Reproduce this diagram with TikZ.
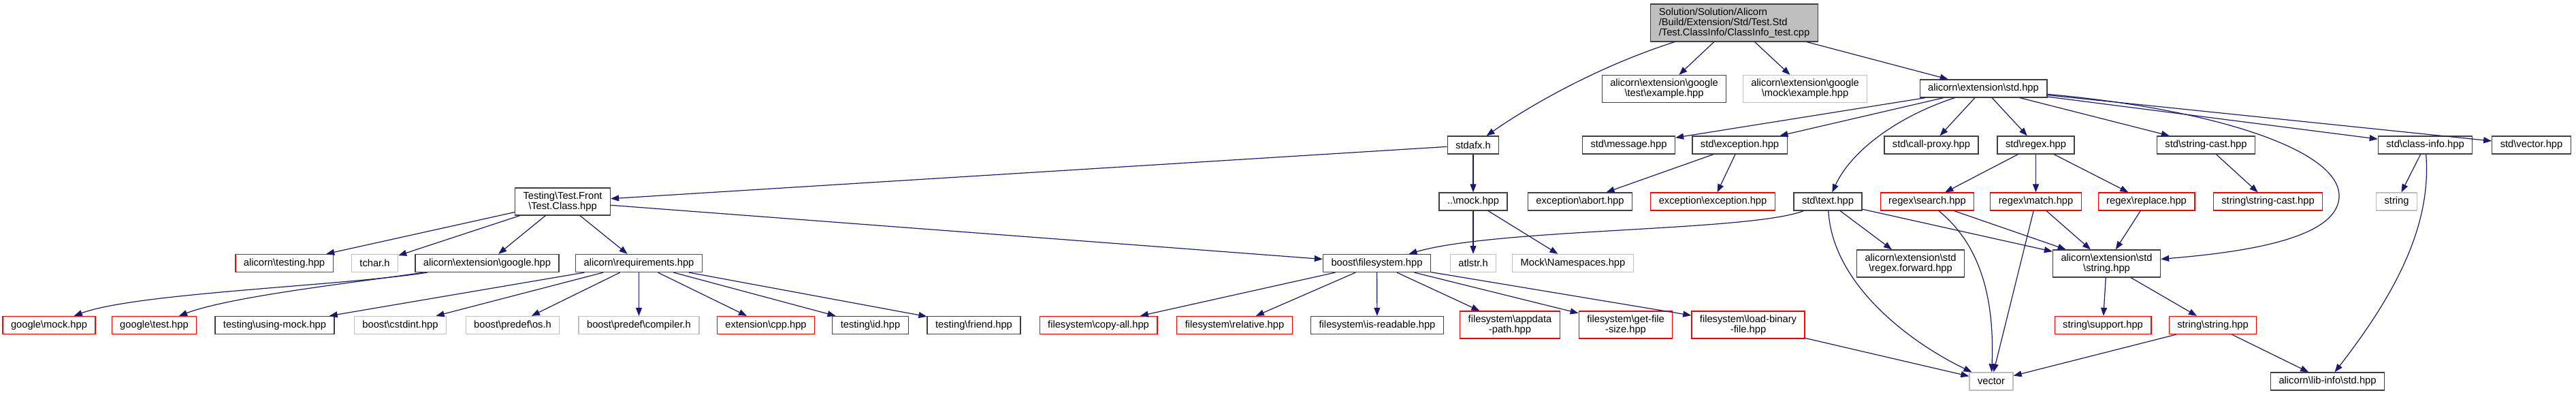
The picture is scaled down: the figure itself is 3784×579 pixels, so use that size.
\documentclass[tikz,border=0pt]{standalone}
\usepackage{fontspec}
\setmainfont{Liberation Sans}
\usepackage{xcolor}
\usepackage{tikz}
\usetikzlibrary{arrows.meta}
\definecolor{edgeblue}{HTML}{191970}
\definecolor{docblack}{HTML}{404040}
\definecolor{truncred}{HTML}{FF0000}
\definecolor{extgray}{HTML}{BFBFBF}
\newcommand{\bs}{\textbackslash}
\newcommand{\graphfont}{\fontsize{14.7}{15}\selectfont}

\begin{document}
\begin{tikzpicture}[x=1pt,y=-1pt,
  incfile/.style={draw=docblack,line width=1.3pt,fill=white,font=\graphfont,align=center,
    inner xsep=12pt,inner ysep=0pt,minimum height=26pt},
  twoline/.style={minimum height=40pt},
  trunc/.style={incfile,draw=truncred},
  extern/.style={incfile,draw=extgray},
  inc/.style={draw=edgeblue,line width=1.2pt,-{Triangle[length=12pt,width=9pt]}}]
  \useasboundingbox (0,0) rectangle (3784,579);
  % the file itself and its direct includes
  \node[incfile,fill=extgray,align=left,minimum height=55pt] (root) at (2547.5,33.5)
    {Solution/Solution/Alicorn\\/Build/Extension/Std/Test.Std\\/Test.ClassInfo/ClassInfo\_test.cpp};
  \node[incfile,twoline] (gtestex) at (2444.5,130.5) {alicorn\bs extension\bs google\\\bs test\bs example.hpp};
  \node[extern,twoline] (gmockex) at (2651.5,130.5) {alicorn\bs extension\bs google\\\bs mock\bs example.hpp};
  \node[incfile] (stdhpp) at (2913.5,130) {alicorn\bs extension\bs std.hpp};

  \node[incfile] (stdafx) at (2164,213) {stdafx.h};
  \node[incfile] (message) at (2392.5,213) {std\bs message.hpp};
  \node[incfile] (exception) at (2555.5,213) {std\bs exception.hpp};
  \node[incfile] (callproxy) at (2837,213) {std\bs call-proxy.hpp};
  \node[incfile] (regex) at (2990.5,213) {std\bs regex.hpp};
  \node[incfile] (stringcast) at (3240.5,213) {std\bs string-cast.hpp};
  \node[incfile] (classinfo) at (3562.5,213) {std\bs class-info.hpp};
  \node[incfile] (vectorhpp) at (3718.5,213) {std\bs vector.hpp};

  \node[incfile,twoline] (testclass) at (826.5,296) {Testing\bs Test.Front\\\bs Test.Class.hpp};
  \node[incfile] (mockhpp) at (2164,296) {..\bs mock.hpp};
  \node[incfile] (abort) at (2321,296) {exception\bs abort.hpp};
  \node[trunc] (excexc) at (2516,296) {exception\bs exception.hpp};
  \node[incfile] (text) at (2685,296) {std\bs text.hpp};
  \node[trunc] (search) at (2831,296) {regex\bs search.hpp};
  \node[trunc] (match) at (2990.5,296) {regex\bs match.hpp};
  \node[trunc] (replace) at (3153,296) {regex\bs replace.hpp};
  \node[trunc] (strcast) at (3331.5,296) {string\bs string-cast.hpp};
  \node[extern] (stringext) at (3520.5,296) {string};

  \node[trunc] (testing) at (417.5,386.5) {alicorn\bs testing.hpp};
  \node[extern] (tchar) at (550.5,386.5) {tchar.h};
  \node[incfile] (google) at (715.5,386.5) {alicorn\bs extension\bs google.hpp};
  \node[trunc] (requirements) at (938.5,386.5) {alicorn\bs requirements.hpp};
  \node[incfile] (filesystem) at (2022.5,386.5) {boost\bs filesystem.hpp};
  \node[extern] (atlstr) at (2164,386.5) {atlstr.h};
  \node[extern] (namespaces) at (2310.5,386.5) {Mock\bs Namespaces.hpp};
  \node[incfile,twoline] (forward) at (2806.5,387) {alicorn\bs extension\bs std\\\bs regex.forward.hpp};
  \node[incfile,twoline] (strhpp) at (3094.5,387) {alicorn\bs extension\bs std\\\bs string.hpp};

  \node[trunc] (gmock) at (72,477.5) {google\bs mock.hpp};
  \node[trunc] (gtest) at (226.5,477.5) {google\bs test.hpp};
  \node[incfile] (usingmock) at (403.5,477.5) {testing\bs using-mock.hpp};
  \node[extern] (cstdint) at (588,477.5) {boost\bs cstdint.hpp};
  \node[extern] (os) at (753,477.5) {boost\bs predef\bs os.h};
  \node[extern] (compiler) at (938.5,477.5) {boost\bs predef\bs compiler.h};
  \node[trunc] (cpp) at (1125,477.5) {extension\bs cpp.hpp};
  \node[incfile] (id) at (1278.5,477.5) {testing\bs id.hpp};
  \node[incfile] (friend) at (1430.5,477.5) {testing\bs friend.hpp};
  \node[trunc] (copyall) at (1613.5,477.5) {filesystem\bs copy-all.hpp};
  \node[trunc] (relative) at (1813.5,477.5) {filesystem\bs relative.hpp};
  \node[incfile] (isreadable) at (2023,477.5) {filesystem\bs is-readable.hpp};
  \node[trunc,twoline] (appdata) at (2218,477) {filesystem\bs appdata\\-path.hpp};
  \node[trunc,twoline] (getfilesize) at (2388,477) {filesystem\bs get-file\\-size.hpp};
  \node[trunc,twoline] (loadbinary) at (2568,477) {filesystem\bs load-binary\\-file.hpp};
  \node[trunc] (support) at (3089,477.5) {string\bs support.hpp};
  \node[trunc] (strstr) at (3250.5,477.5) {string\bs string.hpp};

  \node[extern] (vector) at (2925,560) {vector};
  \node[incfile] (libinfo) at (3419,560) {alicorn\bs lib-info\bs std.hpp};

  % include edges
  \draw[inc] (root) .. controls (2340,100) and (2240,160) .. (stdafx);
  \draw[inc] (root) -- (gtestex);
  \draw[inc] (root) -- (gmockex);
  \draw[inc] (root) -- (stdhpp);
  \draw[inc] (stdafx) -- (testclass);
  \draw[inc] (stdafx) -- (mockhpp);
  \draw[inc] (stdhpp) -- (message);
  \draw[inc] (stdhpp) -- (exception);
  \draw[inc] (stdhpp) .. controls (2790,170) and (2720,220) .. (text);
  \draw[inc] (stdhpp) -- (callproxy);
  \draw[inc] (stdhpp) -- (regex);
  \draw[inc] (stdhpp) -- (stringcast);
  \draw[inc] (stdhpp) -- (classinfo);
  \draw[inc] (stdhpp) -- (vectorhpp);
  \draw[inc] (stdhpp) .. controls (3250,160) and (3440,220) .. (3436,290)
    .. controls (3432,350) and (3300,370) .. (strhpp);
  \draw[inc] (testclass) -- (testing);
  \draw[inc] (testclass) -- (tchar);
  \draw[inc] (testclass) -- (google);
  \draw[inc] (testclass) -- (requirements);
  \draw[inc] (testclass) -- (filesystem);
  \draw[inc] (mockhpp) -- (atlstr);
  \draw[inc] (mockhpp) -- (namespaces);
  \draw[inc] (exception) -- (abort);
  \draw[inc] (exception) -- (excexc);
  \draw[inc] (text) .. controls (2570,340) and (2200,335) .. (filesystem);
  \draw[inc] (text) -- (forward);
  \draw[inc] (text) -- (strhpp);
  \draw[inc] (text) .. controls (2692,420) and (2810,505) .. (vector);
  \draw[inc] (regex) -- (search);
  \draw[inc] (regex) -- (match);
  \draw[inc] (regex) -- (replace);
  \draw[inc] (stringcast) -- (strcast);
  \draw[inc] (classinfo) -- (stringext);
  \draw[inc] (classinfo) .. controls (3572,330) and (3520,430) .. (libinfo);
  \draw[inc] (google) .. controls (500,420) and (200,430) .. (gmock);
  \draw[inc] (google) .. controls (520,415) and (340,435) .. (gtest);
  \draw[inc] (requirements) -- (usingmock);
  \draw[inc] (requirements) -- (cstdint);
  \draw[inc] (requirements) -- (os);
  \draw[inc] (requirements) -- (compiler);
  \draw[inc] (requirements) -- (cpp);
  \draw[inc] (requirements) -- (id);
  \draw[inc] (requirements) -- (friend);
  \draw[inc] (filesystem) -- (copyall);
  \draw[inc] (filesystem) -- (relative);
  \draw[inc] (filesystem) -- (isreadable);
  \draw[inc] (filesystem) -- (appdata);
  \draw[inc] (filesystem) -- (getfilesize);
  \draw[inc] (filesystem) -- (loadbinary);
  \draw[inc] (search) .. controls (2910,360) and (2930,440) .. (vector);
  \draw[inc] (search) -- (strhpp);
  \draw[inc] (match) -- (vector);
  \draw[inc] (match) -- (strhpp);
  \draw[inc] (replace) -- (strhpp);
  \draw[inc] (loadbinary) -- (vector);
  \draw[inc] (strhpp) -- (support);
  \draw[inc] (strhpp) -- (strstr);
  \draw[inc] (strstr) -- (vector);
  \draw[inc] (strstr) -- (libinfo);
\end{tikzpicture}
\end{document}
